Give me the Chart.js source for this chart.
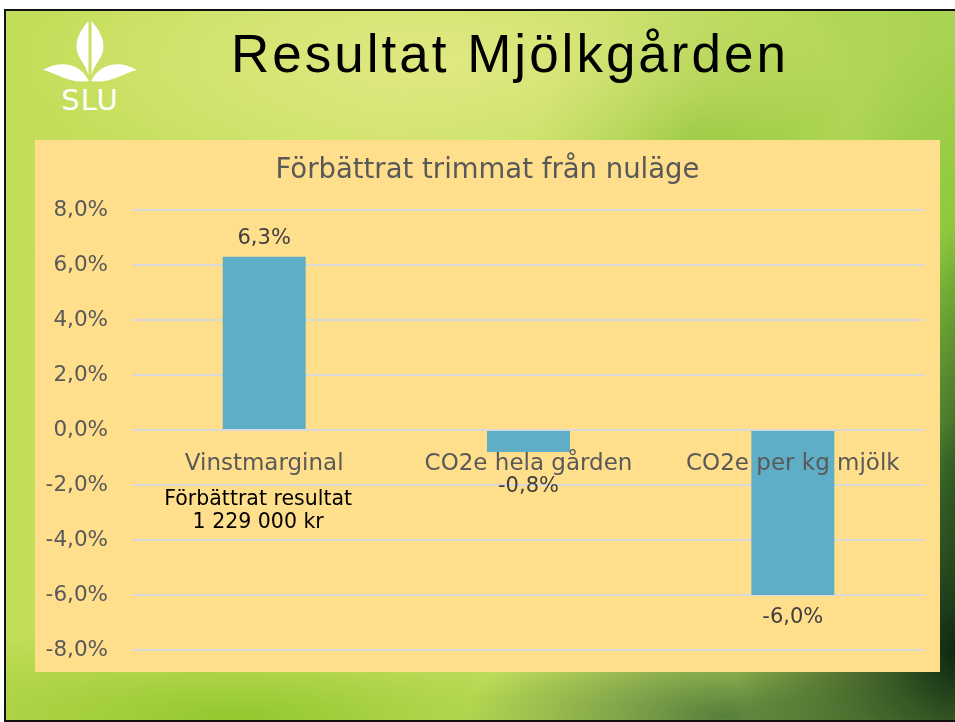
<!DOCTYPE html>
<html><head><meta charset="utf-8">
<script src="https://cdn.jsdelivr.net/npm/chart.js@4/dist/chart.umd.min.js"></script>
<style>
html,body{margin:0;padding:0;width:955px;height:722px;overflow:hidden;background:#fff;}
#slide{position:absolute;left:4px;top:9px;width:975px;height:709px;border:2px solid #111;overflow:hidden;
background:
 radial-gradient(ellipse 230px 230px at 960px 640px, rgba(8,36,16,1), rgba(8,36,16,0) 100%),
 radial-gradient(ellipse 120px 260px at 975px 470px, rgba(25,70,28,0.95), rgba(25,70,28,0) 100%),
 radial-gradient(ellipse 260px 90px at 720px 705px, rgba(70,110,55,0.85), rgba(70,110,55,0) 100%),
 radial-gradient(ellipse 420px 90px at 230px 705px, rgba(145,198,45,0.95), rgba(145,198,45,0) 100%),
 radial-gradient(ellipse 420px 130px at 430px 50px, rgba(226,232,130,0.95), rgba(226,232,130,0) 100%),
 radial-gradient(ellipse 160px 140px at 690px 120px, rgba(140,195,55,0.8), rgba(140,195,55,0) 100%),
 radial-gradient(ellipse 160px 260px at 960px 280px, rgba(130,195,55,0.95), rgba(130,195,55,0) 100%),
 linear-gradient(90deg,#c2dd58 0%,#cce36a 40%,#b8da5a 75%,#a8d250 100%);}
#title{position:absolute;left:0;top:26px;width:1020px;text-align:center;font-family:"Liberation Sans",Arial,sans-serif;font-size:53px;letter-spacing:3px;color:#000;line-height:56px;}
#logo{position:absolute;left:40px;top:18px;width:100px;height:96px;}
#panel{position:absolute;left:35px;top:140px;width:905px;height:532px;background:#FFDF8C;}
canvas{display:block;}
</style></head>
<body>
<div id="slide"></div>
<div id="title">Resultat Mjölkgården</div>
<svg id="logo" viewBox="0 0 100 96" xmlns="http://www.w3.org/2000/svg">
 <path d="M48.5 3 C40 13 35 22 37 33 C39 42 46 46 48.5 58 Z" fill="#fff"/>
 <path d="M51.5 3 C60 13 65 22 63 33 C61 42 54 46 51.5 58 Z" fill="#fff"/>
 <path d="M49 63 C40 45 20 42 3 52 C17 55 28 66 49 63 Z" fill="#fff"/>
 <path d="M51 63 C60 45 80 42 97 52 C83 55 72 66 51 63 Z" fill="#fff"/>
 <text x="50" y="92" text-anchor="middle" font-family="DejaVu Sans, sans-serif" font-size="29" fill="#fff" letter-spacing="1">SLU</text>
</svg>
<div id="panel"><canvas id="c" width="905" height="532"></canvas></div>
<script>
const categories = ['Vinstmarginal', 'CO2e hela gården', 'CO2e per kg mjölk'];
const values = [6.3, -0.8, -6.0];
const yTickValues = [-8, -6, -4, -2, 0, 2, 4, 6, 8];
const chartTitle = 'Förbättrat trimmat från nuläge';
const noteLines = ['Förbättrat resultat', '1 229 000 kr'];

const FONT = '"DejaVu Sans", sans-serif';
const fmt = v => v.toFixed(1).replace('.', ',') + '%';
const labelOffsets = [-18, 35, 23];

const dataLabels = {
  id: 'dataLabels',
  afterDatasetsDraw(chart) {
    const ctx = chart.ctx;
    const meta = chart.getDatasetMeta(0);
    ctx.save();
    ctx.font = '21px ' + FONT;
    ctx.fillStyle = '#404040';
    ctx.textAlign = 'center';
    ctx.textBaseline = 'middle';
    meta.data.forEach((bar, i) => {
      ctx.fillText(fmt(values[i]), bar.x, bar.y + labelOffsets[i]);
    });
    ctx.restore();
  },
  afterDraw(chart) {
    const ctx = chart.ctx;
    const xs = chart.scales.x, ys = chart.scales.y;
    const cx = xs.getPixelForValue(0) - 6;
    const y0 = ys.getPixelForValue(0);
    ctx.save();
    ctx.textAlign = 'center';
    ctx.textBaseline = 'middle';
    ctx.font = '20.5px ' + FONT;
    ctx.fillStyle = '#000';
    ctx.fillText(noteLines[0], cx, y0 + 70);
    ctx.fillText(noteLines[1], cx, y0 + 93);
    ctx.font = '27.5px ' + FONT;
    ctx.fillStyle = '#595959';
    ctx.fillText(chartTitle, chart.width / 2, 31);
    ctx.restore();
  }
};

new Chart(document.getElementById('c'), {
  type: 'bar',
  data: {
    labels: categories,
    datasets: [{ data: values, backgroundColor: '#5FAEC7', barPercentage: 0.314, categoryPercentage: 1 }]
  },
  options: {
    responsive: false, animation: false, devicePixelRatio: 1,
    layout: { padding: { top: 70, right: 15, bottom: 22, left: 0 } },
    plugins: {
      legend: { display: false }, tooltip: { enabled: false }, title: { display: false }
    },
    scales: {
      x: {
        position: { y: 0 },
        afterFit: s => { s.height = 0; },
        grid: { display: false, drawTicks: false }, border: { display: false },
        ticks: { z: 1, color: '#595959', font: { family: FONT, size: 23 }, padding: 20, maxRotation: 0, autoSkip: false }
      },
      y: {
        min: -8, max: 8,
        afterBuildTicks: s => { s.ticks = yTickValues.map(v => ({ value: v })); },
        afterFit: s => { s.width = 97; s.paddingTop = 0; s.paddingBottom = 0; },
        grid: { color: '#D9D9D9', lineWidth: 2, drawTicks: false }, border: { display: false },
        ticks: { color: '#595959', font: { family: FONT, size: 21.5 }, padding: 24, callback: v => fmt(v) }
      }
    }
  },
  plugins: [dataLabels]
});
</script>
</body></html>
